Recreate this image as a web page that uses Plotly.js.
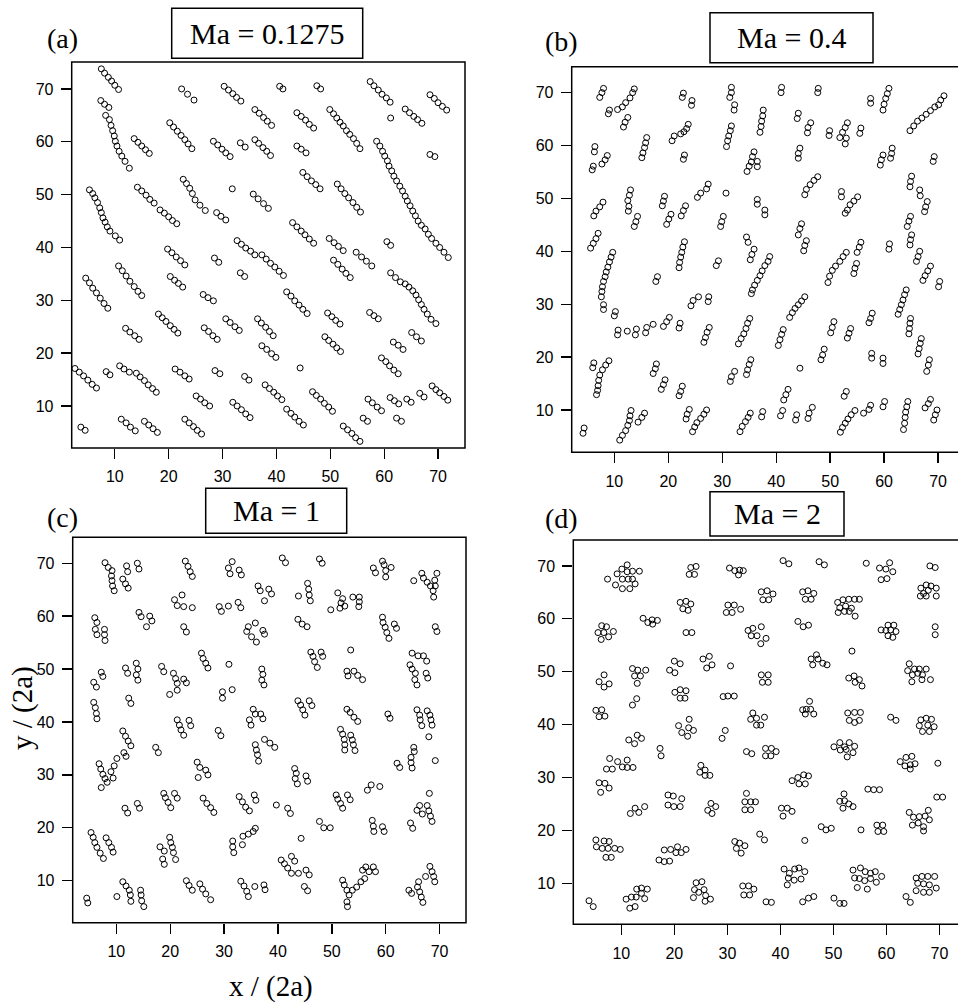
<!DOCTYPE html>
<html>
<head>
<meta charset="utf-8">
<script src="https://cdn.plot.ly/plotly-3.0.1.min.js"></script>
<style>html,body{margin:0;padding:0;background:#fff}#plot{width:958px;height:1005px}</style>
</head>
<body>
<div id="plot"></div>
<script>
// Particle positions (x/(2a), y/(2a))
const panelA = [
[7.5,73.8],[8.1,73.0],[8.8,72.2],[9.4,71.5],[10.0,70.7],[10.7,69.9],
[7.4,67.8],[8.1,67.1],[8.9,66.5],
[8.3,65.0],[9.0,64.2],[9.3,63.1],[9.6,62.1],[9.9,61.1],[10.1,60.1],[10.4,59.2],[10.8,58.2],[11.3,57.3],[11.9,56.3],[12.7,55.0],
[13.6,60.6],[14.3,59.9],[15.0,59.2],[15.7,58.5],[16.4,57.8],
[5.3,50.9],[5.9,50.2],[6.3,49.4],[6.8,48.5],[7.2,47.5],[7.5,46.6],[7.8,45.6],[8.2,44.8],[8.6,43.9],[9.1,43.1],[10.1,42.2],[10.9,41.4],
[4.6,34.2],[5.3,33.3],[5.9,32.3],[6.6,31.4],[7.3,30.4],[8.0,29.4],[8.7,28.5],
[10.7,36.5],[11.4,35.6],[12.1,34.6],[12.8,33.6],[13.6,32.6],[14.3,31.7],[15.0,30.9],
[14.2,51.4],[15.0,50.7],[15.8,49.9],[16.5,49.1],[17.3,48.4],
[18.4,47.1],[19.2,46.5],[20.0,45.8],[20.7,45.1],[21.5,44.5],
[20.2,63.6],[20.9,62.8],[21.6,62.0],[22.3,61.2],[23.0,60.4],[23.6,59.6],[24.3,58.7],
[22.7,52.9],[23.3,52.1],[23.9,51.2],[24.4,50.2],[24.9,49.0],[25.8,48.0],[26.8,47.0],
[22.4,70.0],[23.5,69.0],[24.7,67.9],
[30.3,70.5],[31.1,69.8],[31.9,69.1],[32.6,68.4],[33.4,67.7],
[28.3,60.1],[29.1,59.4],[29.9,58.6],[30.6,57.9],[31.4,57.2],
[33.3,59.8],[34.2,59.0],
[31.8,51.1],
[28.9,46.6],[29.7,45.9],[30.6,45.2],
[19.8,39.7],[20.6,39.0],[21.4,38.2],[22.2,37.5],[23.0,36.7],
[20.3,34.5],[21.1,33.8],[21.8,33.2],[22.6,32.5],
[28.5,38.0],[29.3,37.2],
[26.4,31.1],[27.3,30.5],[28.3,29.9],
[18.1,27.4],[18.8,26.7],[19.5,26.0],[20.3,25.2],[21.0,24.5],[21.7,23.8],
[26.6,24.8],[27.4,24.1],[28.2,23.3],[29.0,22.6],
[30.6,26.5],[31.4,25.8],[32.3,25.0],[33.1,24.3],
[32.7,41.3],[33.5,40.6],[34.3,39.9],[35.2,39.3],[36.0,38.6],
[33.3,35.2],[34.1,34.5],
[12.0,24.7],[12.8,24.0],[13.7,23.3],[14.5,22.6],
[2.6,17.1],[3.4,16.4],[4.2,15.7],[5.0,14.9],[5.8,14.1],[6.6,13.4],
[8.4,16.5],[9.1,15.9],
[10.9,17.6],[11.7,17.0],[12.7,16.4],
[14.0,16.2],[14.7,15.5],[15.5,14.8],[16.2,14.0],[17.0,13.3],[17.7,12.6],
[21.2,17.0],[22.1,16.4],[23.0,15.7],[23.8,15.1],
[28.6,16.7],[29.5,16.1],
[34.1,15.6],[34.9,14.9],
[25.1,11.9],[25.9,11.3],[26.7,10.6],[27.6,10.0],
[31.9,10.7],[32.7,10.0],[33.5,9.3],[34.3,8.5],[35.1,7.8],
[3.7,6.0],[4.5,5.4],
[11.2,7.5],[12.1,6.8],[12.9,6.0],[13.8,5.3],
[15.5,7.1],[16.3,6.4],[17.1,5.7],[17.9,5.0],
[23.0,7.5],[23.8,6.8],[24.6,6.1],[25.3,5.4],[26.1,4.7],
[37.9,14.0],[38.7,13.3],[39.5,12.6],[40.2,11.9],[41.0,11.2],
[41.9,9.4],[42.7,8.6],[43.4,7.9],[44.2,7.1],[45.0,6.4],
[46.7,12.7],[47.4,12.0],[48.2,11.3],[48.9,10.5],[49.7,9.8],[50.4,9.0],
[52.4,6.2],[53.2,5.5],[54.0,4.8],[54.7,4.0],[55.5,3.3],
[56.1,7.7],[56.9,7.1],
[57.0,11.3],[57.8,10.6],[58.7,9.8],[59.5,9.1],
[61.1,11.6],[61.9,11.0],[62.7,10.4],
[62.3,7.7],[63.2,7.1],
[64.2,11.3],[65.0,10.7],
[66.6,12.4],[67.4,11.7],
[68.9,13.8],[69.6,13.1],[70.3,12.5],[71.1,11.8],[71.8,11.1],
[40.6,70.5],[41.2,70.0],
[47.5,70.6],[48.2,70.0],
[57.4,71.4],[58.1,70.6],[58.9,69.8],[59.6,69.0],[60.4,68.3],[61.1,67.5],
[68.5,68.9],[69.3,68.2],[70.0,67.4],[70.8,66.7],[71.6,66.0],
[36.0,66.1],[36.8,65.4],[37.6,64.6],[38.3,63.9],[39.1,63.1],
[43.8,65.5],[44.6,64.8],[45.4,64.1],[46.1,63.3],[46.9,62.6],
[49.9,66.1],[50.6,65.3],[51.2,64.5],[51.8,63.7],[52.4,63.0],[53.0,62.1],[53.6,61.4],[54.3,60.6],[54.9,59.7],[55.5,58.7],
[61.2,64.5],
[63.9,66.2],[64.7,65.5],[65.5,64.8],[66.2,64.2],[67.0,63.5],
[36.0,60.4],[36.7,59.7],[37.5,58.9],[38.2,58.2],[38.9,57.4],
[43.8,59.2],[44.6,58.6],[45.5,57.9],
[58.6,60.1],[59.2,59.2],[59.7,58.2],[60.1,57.3],[60.6,56.4],[60.9,55.4],[61.4,54.5],[61.8,53.5],[62.3,52.6],[62.9,51.6],[63.4,50.7],[63.9,49.7],[64.3,48.8],[64.8,47.9],[65.3,46.9],[65.8,46.0],[66.3,45.0],[66.9,44.2],[67.6,43.5],[68.2,42.5],[68.8,41.7],[69.6,40.8],[70.3,40.0],[71.1,39.1],[71.9,38.1],
[68.5,57.6],[69.4,57.2],
[44.9,54.2],[45.7,53.4],[46.5,52.6],[47.3,51.9],[48.1,51.1],
[51.3,52.0],[52.0,51.1],[52.7,50.2],[53.4,49.4],[54.2,48.5],[54.9,47.6],[55.6,46.7],
[35.7,50.1],[36.6,49.2],[37.6,48.3],[38.5,47.4],
[43.0,44.7],[43.8,43.9],[44.6,43.1],[45.3,42.4],[46.1,41.6],[46.9,40.8],
[49.8,41.7],[50.7,40.9],[51.5,40.2],[52.4,39.4],
[54.8,39.1],[55.8,38.2],[56.7,37.4],[57.7,36.5],
[60.5,41.1],[61.2,40.4],
[37.3,38.6],[38.1,37.8],[38.9,37.0],[39.7,36.3],[40.5,35.5],[41.3,34.7],
[50.6,37.6],[51.4,36.8],[52.2,35.9],[52.9,35.1],[53.7,34.3],
[61.2,35.2],[62.1,34.3],[63.0,33.5],
[63.9,33.1],[64.6,32.5],[65.3,31.8],[65.9,31.0],[66.4,30.1],[66.9,29.2],[67.4,28.3],[68.0,27.4],[68.7,26.4],[69.6,25.6],
[41.9,31.6],[42.7,30.8],[43.4,29.9],[44.2,29.1],[44.9,28.3],[45.7,27.5],
[36.5,26.5],[37.2,25.7],[38.0,24.9],[38.7,24.1],[39.4,23.3],
[37.3,21.4],[38.2,20.7],[39.1,19.9],[39.9,19.2],
[49.5,27.6],[50.3,26.9],[51.0,26.2],[51.8,25.5],
[49.0,23.1],[49.7,22.4],[50.5,21.7],[51.2,21.0],[51.9,20.3],
[57.3,27.7],[58.1,27.1],[58.9,26.5],
[65.1,23.9],[66.0,23.1],[66.9,22.3],
[61.7,22.1],[62.6,21.5],[63.5,20.7],
[59.5,19.1],[60.3,18.4],[61.0,17.6],[61.8,16.8],[62.6,16.1],
[44.4,17.2]
];

const panelB = [
[8.0,70.8],[7.7,70.0],[7.3,69.1],
[9.1,66.7],[8.9,66.0],
[10.6,66.8],[11.5,67.3],[12.1,68.1],[12.9,69.0],[13.4,70.0],[13.7,70.7],
[12.5,65.3],[12.0,64.4],[11.7,63.5],
[6.4,59.8],[6.3,58.8],
[6.1,56.1],[5.9,55.4],
[7.7,56.5],[8.3,57.3],[8.7,58.1],
[16.0,61.5],[15.8,60.5],[15.6,59.6],[15.3,58.6],[15.1,57.7],
[22.8,69.9],[22.6,69.1],
[24.4,68.5],[24.3,67.6],
[21.1,61.8],[20.7,60.9],
[22.3,62.2],[22.9,62.6],[23.4,63.2],[23.7,64.0],
[23.0,58.2],[22.8,57.4],
[6.2,46.7],[6.6,47.6],[7.3,48.4],[7.9,49.3],
[13.0,51.6],[12.8,50.6],[12.5,49.6],[12.7,48.5],[12.6,47.6],
[14.3,46.6],[14.0,45.6],[13.7,44.7],
[5.6,40.6],[6.1,41.5],[6.6,42.4],[7.0,43.4],
[9.7,39.8],[9.4,38.9],[9.1,38.0],[8.8,37.0],[8.5,36.1],[8.3,35.2],[8.0,34.3],[7.8,33.3],[7.7,32.4],[7.6,31.4],
[8.0,29.9],[8.0,29.0],
[10.2,28.6],[10.0,27.8],
[10.7,25.1],[10.6,24.2],
[12.4,24.9],
[14.1,25.3],[13.9,24.2],
[16.0,25.6],[15.8,24.6],
[17.2,26.2],
[20.2,27.5],[19.7,26.7],[19.1,25.8],
[22.2,26.4],[22.0,25.5],
[18.0,35.2],[17.7,34.3],
[23.0,41.8],[22.7,40.8],[22.5,39.8],[22.3,38.9],[22.1,37.9],[22.0,36.9],
[29.3,38.2],[28.9,37.3],
[19.3,50.4],[19.1,49.5],[18.9,48.6],
[20.5,47.0],[20.1,46.1],[19.7,45.1],
[23.2,48.6],[22.8,47.7],[22.4,46.7],
[25.4,50.2],[26.0,51.0],[27.1,51.8],[27.4,52.7],
[30.7,51.0],
[30.2,46.6],[29.9,45.6],[29.7,44.7],
[24.2,29.7],[24.6,30.7],[25.6,31.4],
[27.5,31.4],[27.4,30.5],
[27.6,25.6],[27.2,24.7],[26.9,23.7],[26.6,22.8],
[6.2,18.9],[6.0,18.0],
[9.0,19.3],[8.4,18.5],[7.8,17.6],[7.3,16.6],[7.1,15.6],[7.0,14.6],[6.9,13.7],[6.7,12.9],
[17.8,18.7],[17.6,17.8],[17.2,16.9],
[19.4,15.7],[19.1,14.8],[18.7,13.9],
[22.6,14.5],[22.3,13.5],[22.0,12.7],
[4.4,6.6],[4.2,5.6],
[11.0,4.3],[11.5,5.2],[12.1,6.1],[12.5,7.1],[12.8,8.0],[12.9,8.9],[13.1,9.9],
[15.6,9.4],[15.1,8.6],[14.4,7.7],
[23.9,10.1],[23.5,9.2],[23.3,8.3],
[27.1,10.0],[26.6,9.2],[26.0,8.4],[25.3,7.6],[24.9,6.8],[24.5,5.9],
[31.7,71.0],[31.7,70.0],[31.4,69.1],
[32.3,67.7],[32.2,66.7],
[31.7,63.7],[31.5,62.8],[31.2,61.8],[31.0,60.9],[30.8,59.8],
[37.6,66.7],[37.5,65.6],[37.3,64.6],[37.2,63.6],[37.0,62.5],
[41.0,71.0],[40.9,70.0],
[47.8,70.8],[47.7,70.0],
[44.1,66.1],[43.9,65.1],
[46.4,64.3],[45.9,63.4],[45.8,62.4],
[49.9,62.8],[49.8,61.9],
[53.2,64.3],[52.8,63.4],[52.3,62.5],[51.8,61.5],[53.0,61.4],[52.8,60.3],
[55.7,63.3],[55.5,62.3],
[57.5,68.9],[57.5,68.0],
[60.9,70.8],[60.6,69.8],[60.3,68.9],[60.0,67.8],[59.8,66.7],
[64.8,62.8],[65.5,63.7],[66.2,64.6],[67.0,65.2],[67.8,65.9],[68.6,66.6],[69.4,67.3],[70.1,67.7],[70.5,68.6],[71.1,69.4],
[69.3,57.9],[69.1,57.0],
[61.5,59.5],[61.4,58.5],[61.2,57.6],
[59.8,58.2],[59.5,57.3],[59.3,56.3],
[44.4,59.5],[44.1,58.5],[44.1,57.6],
[35.9,58.8],[35.6,57.9],[35.4,56.9],[35.0,56.1],[34.6,55.1],
[36.5,57.0],[36.5,56.0],
[36.5,49.8],[36.5,48.9],
[37.9,47.8],[37.9,46.9],
[47.7,54.1],[47.0,53.4],[46.3,52.6],[45.6,51.7],[45.3,50.7],
[52.1,51.3],[52.1,50.3],
[55.1,50.3],[54.4,49.5],[53.7,48.8],[53.2,47.8],[52.8,47.2],
[65.1,54.2],[64.9,53.2],[64.8,52.2],
[66.6,51.6],[66.7,50.5],
[68.0,49.4],[67.7,48.4],[67.5,47.5],
[64.9,46.6],[64.6,45.7],[64.3,44.7],
[65.1,43.1],[64.9,42.2],[64.8,41.2],
[44.7,45.2],[44.4,44.3],[44.1,43.1],
[45.6,42.0],[45.3,41.1],[45.1,40.1],
[34.5,42.7],[34.8,41.7],
[35.9,40.4],[35.5,39.4],[35.2,38.4],
[38.8,39.0],[38.5,38.1],[37.9,37.3],[37.4,36.3],[37.0,35.4],[36.5,34.5],[36.0,33.6],[35.6,32.7],[35.4,32.0],
[41.3,25.2],[41.0,24.3],[40.7,23.3],[40.4,22.2],
[45.3,31.4],[44.7,30.6],[44.1,29.9],[43.5,29.2],[43.0,28.4],[42.5,27.5],
[35.1,27.3],[34.7,26.4],[34.4,25.4],[34.0,24.4],[33.5,23.5],[33.0,22.5],
[35.3,19.5],[35.0,18.6],[34.7,17.6],[34.5,16.7],
[32.3,17.3],[31.7,16.3],[31.5,15.4],
[44.4,17.9],
[48.9,21.5],[48.6,20.4],[48.3,19.5],
[50.7,26.7],[50.4,25.6],[50.1,24.6],
[53.8,25.4],[53.5,24.5],[53.2,23.6],
[55.7,41.7],[55.4,40.8],[55.0,39.8],
[54.9,37.7],[54.6,36.8],[54.4,35.8],
[53.0,39.8],[52.4,39.0],[51.8,38.1],[51.0,37.2],[50.4,36.4],[49.9,35.3],[49.6,34.1],
[61.0,41.4],[60.9,40.4],
[66.6,40.0],[66.3,39.0],[66.0,38.1],
[68.6,37.2],[68.1,36.3],[67.6,35.4],[67.2,34.5],
[70.3,34.3],[70.1,33.3],
[64.1,32.7],[63.8,31.8],[63.5,30.8],[63.2,29.9],[62.9,29.0],[62.6,28.1],
[64.9,27.3],[64.8,26.4],[64.7,25.4],[64.6,24.4],
[66.9,23.5],[66.7,22.6],[66.5,21.6],[66.3,20.6],
[68.4,19.5],[68.2,18.5],[67.9,17.3],
[57.8,28.3],[57.5,27.3],[57.2,26.5],
[57.7,20.7],[57.7,19.8],
[59.8,19.8],[59.8,18.8],
[42.2,13.9],[41.8,12.9],[41.4,11.9],
[53.0,13.5],[52.6,12.6],
[35.2,9.4],[34.8,8.6],[34.3,7.8],[33.7,6.9],[33.3,5.9],
[37.5,9.7],[37.3,8.7],
[41.2,9.9],[40.8,8.9],
[43.8,9.1],[43.6,8.1],
[46.7,10.5],[46.1,9.4],[45.9,8.4],
[54.6,9.9],[53.9,9.1],[53.3,8.3],[52.8,7.5],[52.3,6.7],[51.9,5.8],
[56.2,9.4],[57.2,10.1],[57.5,10.9],
[60.1,11.6],[59.8,10.6],
[64.4,11.6],[64.2,10.6],[64.0,9.6],[63.9,8.6],[63.8,7.5],[63.6,6.3],
[68.6,12.0],[68.2,11.2],[67.6,10.4],
[69.8,10.0],[69.5,9.1],[69.2,8.1]
];

const panelC = [
[7.9,70.1],[8.5,69.2],[9.2,68.6],[9.1,67.6],[9.2,66.7],[9.3,65.7],[9.6,64.8],
[11.9,69.5],[12.1,68.4],[11.2,67.0],[11.7,66.1],[12.2,65.3],
[13.9,70.0],[14.2,68.9],
[6.0,59.7],[6.4,58.8],[6.1,57.5],[6.4,56.5],[7.8,57.5],[7.8,56.5],[7.9,55.4],
[14.2,60.7],[14.6,59.9],[15.6,58.0],[16.2,60.0],[16.6,59.1],
[5.8,47.5],[6.3,46.6],[7.2,49.4],[7.5,48.6],
[5.8,43.7],[6.1,42.7],[6.3,41.6],[6.4,40.6],
[11.7,50.2],[12.1,49.2],[13.7,51.1],[14.0,50.0],[13.7,48.9],[14.0,47.9],
[12.3,44.5],[12.7,43.5],
[11.2,38.3],[11.7,37.3],[12.2,36.4],[12.7,35.5],[11.4,34.2],[11.8,33.5],
[6.8,32.1],[7.1,31.1],[7.5,30.1],[7.9,29.3],[8.3,28.6],[7.2,27.6],
[9.0,30.6],[9.6,31.7],[10.1,33.1],[9.4,29.4],
[17.3,35.2],[17.8,34.2],
[11.6,23.7],[12.1,22.8],[13.9,24.6],[14.3,23.7],
[5.3,19.1],[5.7,18.2],[6.0,17.2],[6.4,16.3],[7.0,15.2],[7.6,14.2],
[8.1,18.1],[8.6,17.2],[9.1,16.3],[9.4,15.4],
[4.5,6.7],[4.7,5.8],[10.1,7.0],
[11.2,9.8],[11.8,9.0],[12.4,8.2],[12.6,7.3],[12.7,6.1],
[14.5,8.2],[14.6,7.3],[14.7,6.2],[15.1,5.1],
[18.1,16.4],[18.9,15.6],[18.6,14.1],[18.9,13.1],
[19.9,18.2],[20.1,17.2],[20.4,16.3],[20.6,15.3],[21.0,14.0],
[18.8,26.5],[19.1,25.7],[19.6,24.8],[20.1,23.8],[20.8,26.5],[21.3,25.6],
[18.4,50.5],[18.8,49.5],
[20.6,49.2],[21.0,48.2],[21.3,47.3],[21.3,46.0],[19.9,45.2],[22.5,48.1],[23.0,47.4],
[21.3,40.4],[21.7,39.4],[22.0,38.5],[22.5,37.5],[23.5,40.3],[23.8,39.3],
[20.8,63.1],[21.3,62.0],[22.2,64.0],[22.5,61.8],[24.1,61.6],
[22.8,70.4],[23.3,69.4],[23.7,68.4],[24.1,67.5],
[22.5,58.0],[23.0,57.0],
[25.8,53.0],[26.1,52.0],[26.6,51.1],[27.0,50.2],
[25.0,32.4],[25.5,31.4],[26.6,30.9],[27.0,30.0],[25.2,29.5],
[26.1,25.6],[26.8,24.6],[27.5,23.8],[28.1,22.9],
[23.0,10.0],[23.5,9.1],[24.1,8.2],
[25.5,9.4],[26.0,8.4],[26.6,7.5],[27.5,6.4],
[29.1,61.8],[29.5,60.9],[30.8,61.9],[32.6,62.6],[33.1,61.6],
[30.8,69.1],[31.1,68.0],[31.5,70.3],[32.8,68.7],[33.2,67.8],
[30.9,50.9],[31.5,46.1],[29.7,45.7],[29.7,44.5],
[28.9,38.4],[29.4,37.4],
[32.8,25.9],[33.4,24.9],[34.0,23.9],[34.7,23.2],[35.6,26.2],[35.9,25.2],
[31.6,17.5],[31.6,16.4],[31.8,15.3],[33.4,16.8],
[33.1,9.9],[33.7,9.0],[34.2,8.0],[34.5,7.0],[35.7,8.9],[37.4,9.2],[37.6,8.3],
[34.7,40.4],[35.0,39.4],
[40.8,71.0],[41.4,70.1],
[47.7,70.8],[48.2,70.0],
[57.7,69.1],[58.1,68.2],[59.4,70.4],[59.7,69.7],[60.0,68.6],[60.0,67.4],[61.0,69.2],
[65.2,66.7],[66.7,68.1],[67.0,67.2],[67.7,66.4],[68.3,65.7],[68.8,64.8],[68.9,63.6],[69.5,68.1],[69.1,66.8],[69.2,65.7],
[36.3,65.7],[36.7,64.8],[38.3,65.1],[38.8,64.2],[37.5,62.9],
[43.8,63.8],[45.5,66.2],[45.7,65.1],[45.8,64.0],[46.0,62.9],
[51.1,64.4],[52.0,63.3],[51.7,62.5],[51.5,61.5],[52.4,61.9],[49.8,61.2],[53.9,63.6],[55.1,63.6],[55.1,62.7],[55.0,61.8],
[34.5,58.0],[34.2,57.1],[35.1,56.1],[36.0,55.1],[35.8,58.7],[37.2,57.3],[37.5,56.6],
[43.7,59.4],[44.5,58.5],[45.4,58.0],
[59.4,59.8],[59.5,58.8],[59.9,57.9],[60.2,56.9],[60.6,55.8],[61.6,58.5],[62.0,57.7],
[69.2,58.0],[69.5,57.1],
[46.1,53.2],[46.5,52.4],[46.8,51.4],[47.3,50.3],[48.0,53.2],[48.3,52.4],
[53.5,53.6],
[52.8,49.6],[53.0,48.7],[54.1,49.6],[54.8,48.8],[55.7,48.0],
[64.9,53.0],[66.0,52.5],[67.0,52.5],[67.6,51.5],[64.5,50.8],[64.9,50.0],[65.5,49.2],[65.4,48.0],[65.8,47.0],[67.5,49.2],[67.8,48.3],
[37.0,50.0],[37.2,49.0],[37.0,47.9],[37.4,47.0],
[43.7,44.0],[44.2,43.2],[44.6,42.3],[45.0,41.3],[45.8,44.0],[46.3,43.1],
[52.8,42.4],[53.4,41.8],[54.1,40.9],[54.8,40.1],
[51.6,38.6],[52.0,37.7],[52.3,36.7],[52.4,35.7],[52.4,34.7],[53.5,37.5],[53.8,36.6],[54.0,35.7],[54.3,34.6],
[60.4,41.5],[60.8,40.7],
[65.8,42.3],[66.3,41.3],[66.4,40.4],[66.7,39.3],[67.7,42.1],[68.2,41.3],[68.4,40.4],[68.6,39.4],[68.0,37.2],
[35.4,42.4],[35.8,41.5],[36.8,41.5],[37.2,40.6],
[35.8,35.7],[36.0,34.7],[36.2,33.8],[36.4,32.6],[37.5,36.7],[38.5,36.0],[39.4,35.2],
[62.1,32.2],[62.6,31.4],[69.2,32.7],
[65.2,35.2],[65.3,34.4],[64.7,33.3],[64.7,32.3],[64.9,31.3],
[43.1,31.2],[43.4,30.3],[43.2,29.3],[43.6,28.3],[45.2,29.8],[45.5,28.8],
[56.6,27.1],[57.3,28.1],[58.9,27.8],
[50.8,26.2],[51.1,25.4],[51.6,24.6],[52.0,23.7],[52.9,26.2],[53.4,25.3],
[39.7,24.3],[41.8,23.7],[42.3,22.7],
[57.5,21.4],[57.7,20.3],[57.8,19.3],[59.4,20.2],[59.7,19.3],
[68.1,26.5],[67.7,24.2],[68.0,23.2],[68.3,22.2],[68.6,21.2],[65.8,23.3],[66.3,24.2],[66.8,22.6],[64.6,20.9],[65.0,19.9],
[47.7,21.2],[48.5,20.0],[49.7,20.0],
[44.3,18.0],
[33.5,18.4],[34.5,18.8],[35.4,19.3],[35.8,19.9],
[40.6,13.9],[41.2,13.2],[41.8,12.4],[42.5,11.4],[42.5,14.6],[43.1,13.7],[43.8,11.4],[45.2,12.0],[45.8,11.1],[44.9,8.9],[45.5,8.1],
[52.0,10.1],[52.3,9.2],[52.8,8.2],[53.2,7.3],[53.8,8.2],[54.6,8.8],[55.4,9.8],[56.1,10.4],[56.3,12.6],[56.9,11.7],[55.7,12.0],[57.7,12.6],[58.1,11.7],[52.8,6.0],[52.9,5.1],
[68.2,12.7],[68.6,11.7],[68.9,10.8],[69.1,9.8],[67.4,10.8],[66.1,9.8],[65.9,8.8],[66.3,7.9],[66.6,6.9],[66.9,5.9],[64.3,8.2],[64.8,7.6]
];

const panelD = [
[7.4,67.5],[8.9,66.4],[9.2,68.5],[10.1,69.4],[10.2,67.5],[10.2,65.7],[11.1,70.2],[11.1,68.9],[11.3,67.5],[11.6,65.7],[12.1,69.0],[12.1,67.5],[12.6,66.6],[13.4,69.0],
[23.1,69.7],[24.1,69.9],[22.8,68.4],[23.8,68.4],
[21.1,63.1],[22.2,63.3],[23.1,62.8],[21.6,61.9],[22.6,61.6],
[22.2,57.4],[23.3,57.4],
[14.1,60.1],[15.0,59.3],[15.9,59.0],[15.8,59.8],[16.8,59.7],
[6.3,58.7],[7.2,58.5],[5.6,57.4],[6.7,57.4],[8.5,57.6],[6.2,56.1],[7.6,56.6],
[6.75,49.4],[5.8,48.1],[7.7,47.7],[6.75,47.1],
[12.1,50.6],[13.1,50.3],[14.6,50.3],[12.5,49.2],[13.6,49.2],[13.0,47.8],
[12.1,43.7],[12.9,44.9],
[5.2,42.7],[6.3,42.8],[5.8,41.5],[6.9,41.6],
[20.0,52.0],[21.1,51.5],[19.1,50.3],[20.1,49.8],
[20.1,46.1],[21.1,46.6],[22.2,46.4],[21.1,45.0],[22.0,45.0],
[25.4,52.4],[26.6,52.9],[26.1,50.7],[27.1,51.3],
[20.8,39.8],[21.4,38.5],[22.5,37.8],[22.8,41.0],[22.7,39.4],[23.6,38.9],
[11.4,37.1],[12.5,36.4],[13.0,38.0],[13.8,37.4],
[17.3,35.5],[17.5,34.1],
[7.8,33.6],[7.2,31.6],[8.3,31.6],[9.3,33.0],[10.2,32.0],[11.1,33.3],[11.1,31.9],[12.2,31.9],
[5.8,29.0],[6.9,28.9],[6.1,27.2],[7.7,28.0],
[25.0,32.3],[24.8,31.0],[25.8,31.4],[26.7,30.4],[25.8,30.4],
[18.8,26.7],[19.8,26.5],[18.8,24.8],[19.9,24.5],[21.4,26.0],[21.1,24.5],
[11.7,23.2],[12.6,24.2],[13.3,23.4],[14.4,24.5],
[26.9,25.1],[26.3,23.8],[27.8,24.5],[27.1,23.2],
[5.2,18.2],[5.3,16.9],[6.75,18.0],[7.7,17.9],[6.4,16.6],[7.5,16.6],[8.75,16.6],[9.8,16.4],[7.1,14.9],[8.1,14.9],
[17.1,14.4],[18.1,14.1],[19.1,14.2],[18.1,16.3],[19.3,16.4],[20.6,16.9],[20.3,15.8],[21.3,15.8],[22.2,16.4],
[24.1,10.1],[25.2,10.3],[23.8,8.8],[24.6,8.3],[25.6,8.8],[25.9,7.7],[23.6,7.3],[25.8,6.6],[26.8,7.0],
[10.9,7.0],[11.9,7.4],[12.9,8.9],[13.8,9.1],[14.9,8.9],[12.8,7.4],[13.8,8.1],[14.4,7.1],[11.6,5.3],[12.6,5.6],
[3.9,6.7],[4.7,5.6],
[30.4,69.6],[31.4,69.1],[32.3,69.2],[32.1,68.3],[33.0,69.1],
[40.5,71.0],[41.6,70.4],
[47.3,70.8],[48.3,70.2],
[56.2,70.5],
[58.7,69.6],[60.6,70.6],[59.9,69.4],[61.2,68.9],[59.0,67.4],[60.1,67.6],
[68.2,70.0],[69.2,69.7],
[66.5,65.8],[67.5,66.4],[68.4,66.2],[69.4,65.8],[67.0,64.8],[67.9,65.4],[66.4,64.3],[67.5,64.3],[69.4,64.3],
[36.4,65.1],[37.5,65.3],[38.6,64.7],[36.7,63.6],[37.8,63.6],
[44.2,65.1],[45.2,65.3],[46.3,64.8],[44.7,63.7],[45.8,63.7],
[50.8,63.1],[51.8,63.6],[52.9,63.7],[54.0,63.7],[54.9,63.7],[51.2,62.1],[52.3,62.4],[53.4,62.0],[50.9,61.2],[52.1,61.4],[53.0,61.4],[54.1,60.5],
[30.1,62.6],[31.3,62.6],[29.8,61.2],[30.9,61.2],[32.5,61.8],
[43.3,59.5],[44.3,58.5],[45.3,58.8],
[33.9,57.8],[34.8,58.2],[36.4,58.5],[34.5,56.8],[35.6,56.8],[37.3,56.3],[36.3,55.3],
[59.0,57.9],[60.3,58.8],[61.4,58.8],[59.9,57.8],[60.8,57.9],[61.8,57.6],[60.3,56.8],[61.2,56.5],
[69.2,58.5],[69.2,57.0],
[53.5,53.9],
[30.6,51.1],
[46.8,53.2],[45.8,52.4],[47.1,52.4],[46.1,51.3],[48.0,51.6],[48.8,51.3],
[64.3,51.5],[64.0,50.2],[65.3,50.5],[66.2,50.5],[67.5,50.5],[64.9,49.4],[65.9,49.7],[66.8,49.4],[68.3,48.5],[64.8,48.1],[66.7,48.5],
[36.4,49.4],[37.7,49.4],[36.6,48.0],[37.7,48.0],
[52.9,48.8],[53.9,49.2],[54.9,48.5],[54.1,48.0],[55.4,47.3],
[29.2,45.3],[30.1,45.4],[31.3,45.4],
[45.5,44.4],[44.2,42.8],[44.9,42.9],[45.7,42.9],[44.7,42.0],[46.3,42.0],
[34.8,42.2],[34.4,41.0],[35.5,41.2],[37.0,41.4],[35.5,39.9],[36.3,39.9],
[52.7,42.2],[54.0,42.3],[55.1,42.3],[53.0,40.8],[54.0,40.4],[54.9,40.8],
[60.8,41.4],[61.8,40.8],
[66.5,40.9],[67.5,41.2],[68.5,41.0],[66.2,39.8],[67.8,39.9],[69.0,39.6],[66.8,38.7],[68.1,38.7],
[29.6,38.9],[29.0,37.4],
[33.6,34.9],[34.6,34.5],
[37.2,35.5],[38.3,35.5],[39.2,34.9],[37.2,34.1],[38.2,34.1],
[50.1,35.8],[51.2,36.6],[52.1,35.8],[53.0,36.6],[54.0,35.9],[51.3,35.2],[52.4,35.3],[53.7,34.7],[52.6,33.9],
[62.6,33.0],[63.7,33.8],[64.8,34.0],[63.5,32.2],[64.5,32.4],[65.4,32.6],[64.5,31.6],
[69.7,32.7],
[42.2,29.4],[43.3,30.0],[44.4,30.5],[45.3,30.3],[43.5,28.8],[44.7,28.8],
[56.5,27.8],[57.6,27.7],[58.7,27.7],
[69.5,26.3],[70.6,26.3],
[33.6,27.0],[33.3,25.4],[34.4,25.4],[35.3,25.4],[33.3,23.9],[34.4,23.9],
[40.2,24.2],[41.3,24.2],[42.2,23.6],[40.5,22.7],
[52.0,26.9],[51.2,25.5],[52.1,25.6],[52.9,25.0],[51.8,24.2],[53.7,24.5],
[64.3,23.4],[65.1,22.5],[66.2,22.6],[67.3,22.7],[67.9,23.8],[64.9,21.0],[66.0,21.4],[67.0,20.7],[68.1,22.0],[67.0,19.9],
[47.7,20.7],[48.6,20.1],[49.6,20.4],
[55.2,20.1],
[58.2,21.0],[59.3,21.0],[58.4,19.8],[59.5,19.8],
[36.1,19.3],[37.0,18.2],
[44.6,18.1],
[31.4,17.9],[32.3,17.6],[33.3,17.1],[31.7,16.6],[32.6,15.7],
[40.7,12.7],[41.7,11.9],[42.7,12.7],[43.5,12.9],[44.6,12.2],[41.5,11.0],[42.6,10.6],[41.3,9.7],[43.9,10.8],
[32.9,9.5],[34.0,9.5],[35.0,8.9],[33.1,7.8],[34.2,7.8],
[37.3,6.5],[38.3,6.4],
[44.2,6.5],[45.3,7.2],[46.3,7.5],
[50.1,7.2],[51.2,6.2],[52.0,6.2],
[53.7,12.5],[55.1,12.9],[56.0,12.2],[57.0,11.9],[57.9,12.2],[59.1,11.3],[54.0,11.0],[54.9,10.9],[55.9,10.5],[57.0,10.9],[58.1,10.2],[54.5,9.2],[56.4,8.9],
[65.6,11.0],[66.7,11.3],[67.8,11.3],[69.1,11.3],[65.9,10.0],[67.0,9.9],[68.1,9.7],[69.4,9.1],[65.6,8.6],[67.0,8.3],[68.1,8.3],[63.7,7.5],[64.5,6.4]
];

const panelLabels = ['(a)', '(b)', '(c)', '(d)'];
const maLabels = ['Ma = 0.1275', 'Ma = 0.4', 'Ma = 1', 'Ma = 2'];
const tickValues = [10, 20, 30, 40, 50, 60, 70];
const xAxisTitle = 'x / (2a)';
const yAxisTitle = 'y / (2a)';

// ---- layout geometry (pixels) ----
const W = 958, H = 1005;
const panels = [
  {pts: panelA, l: 71.7, r: 465,   t: 62,    b: 448,   xr: [2.0, 75.0], yr: [2.05, 75.1],
   lab: [45, 39],  box: [171.7, 8.3, 362.7, 58.3]},
  {pts: panelB, l: 571.7, r: 958,  t: 66.7,  b: 452.3, xr: [2.1, 73.7], yr: [2.0, 74.9],
   lab: [543, 42], box: [710, 12.7, 873, 62.7]},
  {pts: panelC, l: 72.7, r: 466,   t: 537.3, b: 922.7, xr: [1.9, 74.9], yr: [2.06, 74.9],
   lab: [45, 517], box: [205.7, 488.3, 346.7, 533.3]},
  {pts: panelD, l: 573.3, r: 958,  t: 540,   b: 924.3, xr: [0.94, 73.5], yr: [2.25, 74.9],
   lab: [543, 518], box: [710, 491.7, 844, 536]}
];
const px = v => v / W;
const py = v => 1 - v / H;

const traces = [];
const layout = {
  width: W, height: H, autosize: false,
  margin: {l: 0, r: 0, t: 0, b: 0, pad: 0},
  paper_bgcolor: '#fff', plot_bgcolor: '#fff',
  showlegend: false,
  shapes: [], annotations: []
};
const tickFont = {family: 'Liberation Sans, Arial, sans-serif', size: 16, color: '#000'};
const serif = 'Liberation Serif';

panels.forEach((p, i) => {
  const n = i + 1;
  const sfx = n === 1 ? '' : String(n);
  traces.push({
    type: 'scatter', mode: 'markers',
    x: p.pts.map(q => q[0]), y: p.pts.map(q => q[1]),
    xaxis: 'x' + sfx, yaxis: 'y' + sfx,
    marker: {symbol: 'circle-open', size: 6, color: '#000', line: {width: 1, color: '#000'}},
    hoverinfo: 'skip', cliponaxis: false
  });
  const common = {
    showgrid: false, zeroline: false, showline: false,
    ticks: 'outside', ticklen: 10, tickwidth: 1.3, tickcolor: '#000',
    tickmode: 'array', tickvals: tickValues, ticktext: tickValues.map(String),
    tickfont: tickFont, fixedrange: true
  };
  layout['xaxis' + sfx] = Object.assign({}, common, {
    domain: [px(p.l), Math.min(1, px(p.r))], range: p.xr,
    anchor: 'y' + sfx, ticklabelstandoff: 4
  });
  layout['yaxis' + sfx] = Object.assign({}, common, {
    domain: [py(p.b), py(p.t)], range: p.yr,
    anchor: 'x' + sfx, ticklabelstandoff: 4
  });
  // plot frame
  layout.shapes.push({type: 'rect', xref: 'paper', yref: 'paper',
    x0: px(p.l), x1: px(p.r >= W ? W + 4 : p.r), y0: py(p.b), y1: py(p.t),
    line: {color: '#000', width: 1.5}, fillcolor: 'rgba(0,0,0,0)', layer: 'above'});
  // title box
  layout.shapes.push({type: 'rect', xref: 'paper', yref: 'paper',
    x0: px(p.box[0]), x1: px(p.box[2]), y0: py(p.box[3]), y1: py(p.box[1]),
    line: {color: '#000', width: 1.5}, fillcolor: 'rgba(0,0,0,0)'});
  layout.annotations.push({xref: 'paper', yref: 'paper',
    x: px((p.box[0] + p.box[2]) / 2), y: py((p.box[1] + p.box[3]) / 2),
    xanchor: 'center', yanchor: 'middle', showarrow: false,
    text: maLabels[i], font: {family: serif, size: 30, color: '#000'}});
  layout.annotations.push({xref: 'paper', yref: 'paper',
    x: px(p.lab[0]), y: py(p.lab[1]), xanchor: 'left', yanchor: 'middle',
    showarrow: false, text: panelLabels[i], font: {family: serif, size: 28, color: '#000'}});
});

layout.annotations.push({xref: 'paper', yref: 'paper', x: px(270.7), y: py(986),
  xanchor: 'center', yanchor: 'middle', showarrow: false, text: xAxisTitle,
  font: {family: serif, size: 29, color: '#000'}});
layout.annotations.push({xref: 'paper', yref: 'paper', x: px(22), y: py(708),
  xanchor: 'center', yanchor: 'middle', showarrow: false, text: yAxisTitle, textangle: -90,
  font: {family: serif, size: 29, color: '#000'}});

Plotly.newPlot('plot', traces, layout, {staticPlot: true, displayModeBar: false});
</script>
</body>
</html>
